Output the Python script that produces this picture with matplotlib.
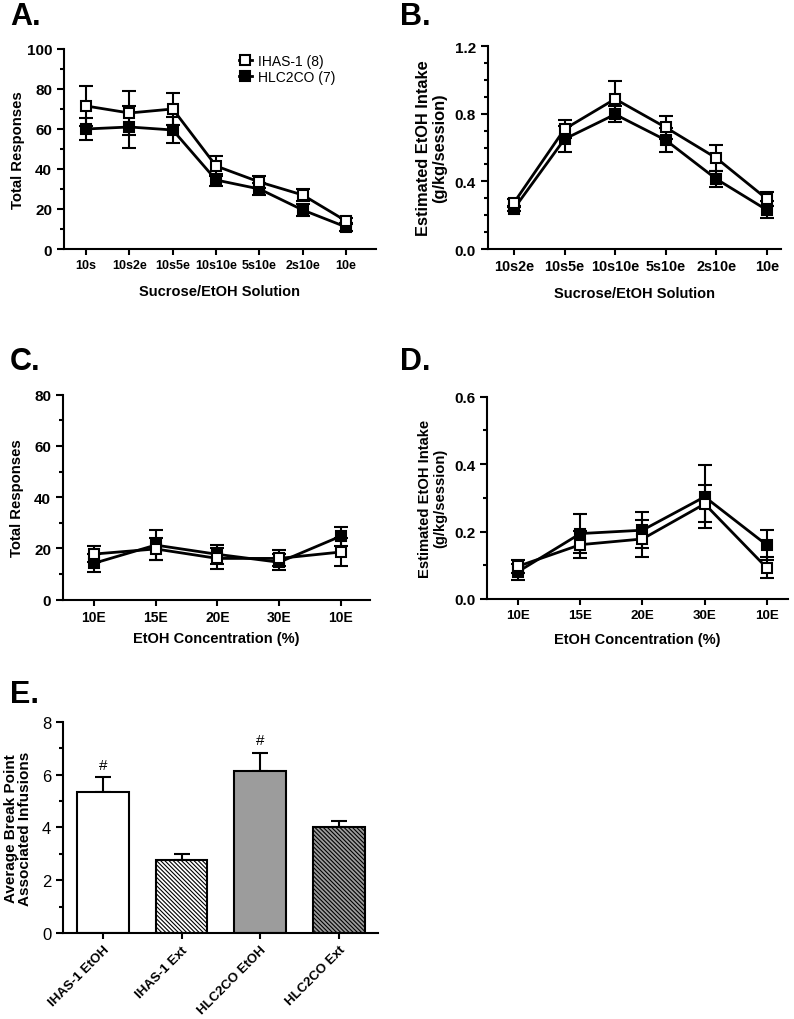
import numpy as np
import matplotlib
matplotlib.use('Agg')
import matplotlib.pyplot as plt
from matplotlib.ticker import MultipleLocator, FormatStrFormatter
from matplotlib.lines import Line2D

plt.rcParams['font.family'] = ['Liberation Sans', 'DejaVu Sans']
plt.rcParams['hatch.linewidth'] = 0.8

# --- DATA ---
# Panel A: total responses across sucrose/EtOH fading
a_labels = ['10s', '10s2e', '10s5e', '10s10e', '5s10e', '2s10e', '10e']
a_ihas = [71.5, 68, 70, 41.5, 33.5, 27, 14]
a_ihas_err = [10, 11, 8, 5, 3, 3, 1.5]
a_hlc = [60, 61, 59.5, 34.5, 30, 19.5, 11]
a_hlc_err = [5.5, 10.5, 6.5, 3, 3, 3, 2]

# Panel B: estimated EtOH intake across fading
b_labels = ['10s2e', '10s5e', '10s10e', '5s10e', '2s10e', '10e']
b_ihas = [0.274, 0.709, 0.887, 0.719, 0.538, 0.296]
b_ihas_err = [0.02, 0.055, 0.106, 0.067, 0.075, 0.04]
b_hlc = [0.238, 0.65, 0.796, 0.644, 0.414, 0.231]
b_hlc_err = [0.012, 0.077, 0.047, 0.073, 0.05, 0.05]

# Panel C: total responses across EtOH concentrations
c_labels = ['10E', '15E', '20E', '30E', '10E']
c_ihas = [17.8, 19.8, 16.1, 16.1, 18.6]
c_ihas_err = [3, 4.3, 4, 3.1, 5.6]
c_hlc = [14.2, 21.3, 17.7, 14.6, 24.8]
c_hlc_err = [3.5, 5.9, 3.8, 3.2, 3.7]

# Panel D: estimated EtOH intake across EtOH concentrations
d_labels = ['10E', '15E', '20E', '30E', '10E']
d_ihas = [0.097, 0.161, 0.178, 0.282, 0.092]
d_ihas_err = [0.02, 0.04, 0.055, 0.055, 0.031]
d_hlc = [0.081, 0.194, 0.204, 0.303, 0.16]
d_hlc_err = [0.024, 0.057, 0.054, 0.093, 0.045]

# Panel E: break point infusions
e_labels = ['IHAS-1 EtOH', 'IHAS-1 Ext', 'HLC2CO EtOH', 'HLC2CO Ext']
e_vals = [5.33, 2.75, 6.14, 4.0]
e_err = [0.57, 0.26, 0.7, 0.25]
e_sig = ['#', '', '#', '']

LW = 1.5
GRAY = '#9c9c9c'

fig = plt.figure(figsize=(7.94, 10.2), dpi=100)


def style_axes(ax, ymax, major, minor, bold=True, tick_size=11):
    for s in ('top', 'right'):
        ax.spines[s].set_visible(False)
    for s in ('left', 'bottom'):
        ax.spines[s].set_linewidth(LW)
    ax.set_ylim(0, ymax)
    ax.yaxis.set_major_locator(MultipleLocator(major))
    ax.yaxis.set_minor_locator(MultipleLocator(minor))
    ax.tick_params(axis='y', which='major', length=5, width=LW, direction='out')
    ax.tick_params(axis='y', which='minor', length=3, width=LW, direction='out')
    ax.tick_params(axis='x', which='major', length=4, width=LW, direction='out')
    weight = 'bold' if bold else 'normal'
    for t in ax.get_yticklabels():
        t.set_fontsize(tick_size)
        t.set_fontweight(weight)


def line_panel(rect, labels, ihas, ihas_err, hlc, hlc_err, xlim, ymax, major, minor,
               ylabel, xlabel, ylab_x, xlab_y, fmt, ylab_size, xtick_size):
    ax = fig.add_axes(rect)
    x = np.arange(len(labels))
    common = dict(color='black', lw=2, elinewidth=1.5, capsize=5, capthick=1.5,
                  marker='s', ms=7.5, mec='black', mew=1.5, clip_on=False)
    ax.errorbar(x, hlc, yerr=hlc_err, mfc='black', zorder=3, **common)
    ax.errorbar(x, ihas, yerr=ihas_err, mfc='white', zorder=4, **common)
    ax.set_xlim(*xlim)
    ax.set_xticks(x)
    ax.set_xticklabels(labels, fontsize=xtick_size, fontweight='bold')
    ax.yaxis.set_major_formatter(FormatStrFormatter(fmt))
    style_axes(ax, ymax, major, minor)
    ax.set_ylabel(ylabel, fontsize=ylab_size, fontweight='bold', linespacing=1.1)
    ax.yaxis.set_label_coords(ylab_x, 0.5)
    ax.set_xlabel(xlabel, fontsize=10.5, fontweight='bold')
    ax.xaxis.set_label_coords(0.5, xlab_y)
    return ax


axA = line_panel([0.0806, 0.7549, 0.3929, 0.1961], a_labels, a_ihas, a_ihas_err,
                 a_hlc, a_hlc_err, (-0.51, 6.69), 100, 20, 10,
                 'Total Responses', 'Sucrose/EtOH Solution', -0.125, -0.175, '%d', 10.7, 9)
axB = line_panel([0.6142, 0.7549, 0.3694, 0.1990], b_labels, b_ihas, b_ihas_err,
                 b_hlc, b_hlc_err, (-0.52, 5.28), 1.2, 0.4, 0.1,
                 'Estimated EtOH Intake\n(g/kg/session)', 'Sucrose/EtOH Solution',
                 -0.139, -0.182, '%.1f', 11.8, 10.4)
axC = line_panel([0.0793, 0.4111, 0.3866, 0.2010], c_labels, c_ihas, c_ihas_err,
                 c_hlc, c_hlc_err, (-0.5, 4.47), 80, 20, 10,
                 'Total Responses', 'EtOH Concentration (%)', -0.127, -0.153, '%d', 10.7, 10)
axD = line_panel([0.6134, 0.4118, 0.3790, 0.1983], d_labels, d_ihas, d_ihas_err,
                 d_hlc, d_hlc_err, (-0.5, 4.34), 0.6, 0.2, 0.1,
                 'Estimated EtOH Intake\n(g/kg/session)', 'EtOH Concentration (%)',
                 -0.133, -0.164, '%.1f', 10.6, 9.6)

# legend in panel A
handles = [Line2D([], [], color='black', lw=2, marker='s', ms=7, mfc='white', mec='black', mew=1.5),
           Line2D([], [], color='black', lw=2, marker='s', ms=7, mfc='black', mec='black', mew=1.5)]
axA.legend(handles, ['IHAS-1 (8)', 'HLC2CO (7)'], loc='upper left', bbox_to_anchor=(0.561, 0.975),
           frameon=False, handlelength=0.9, handletextpad=0.45, labelspacing=0.15,
           borderpad=0, borderaxespad=0, prop={'size': 10})

# Panel E: bars
axE = fig.add_axes([0.0793, 0.0843, 0.3967, 0.2069])
xe = np.arange(len(e_labels))
faces = ['white', 'white', GRAY, GRAY]
hatches = [None, '\\' * 8, None, '\\' * 8]
bars = axE.bar(xe, e_vals, width=0.66, color=faces, edgecolor='black', linewidth=1.5,
               zorder=2)
for b, h in zip(bars, hatches):
    if h:
        b.set_hatch(h)
axE.errorbar(xe, e_vals, yerr=[np.zeros(len(e_err)), e_err], fmt='none', ecolor='black',
             elinewidth=1.5, capsize=6, capthick=1.5, zorder=1)
for xi, v, er, s in zip(xe, e_vals, e_err, e_sig):
    if s:
        axE.text(xi, v + er + 0.2, s, ha='center', va='bottom', fontsize=11)
axE.set_xlim(-0.51, 3.5)
axE.set_xticks(xe)
axE.set_xticklabels(e_labels, rotation=45, ha='right', rotation_mode='anchor',
                    fontsize=9.5, fontweight='bold')
style_axes(axE, 8, 2, 1, bold=False, tick_size=12)
axE.set_ylabel('Average Break Point\nAssociated Infusions', fontsize=11, fontweight='bold',
               linespacing=1.0)
axE.yaxis.set_label_coords(-0.098, 0.5)

# panel letters
for lbl, px, py in [('A.', 10, 17), ('B.', 400, 17), ('C.', 10, 362), ('D.', 400, 362),
                    ('E.', 10, 695)]:
    fig.text(px / 794, 1 - py / 1020, lbl, fontsize=22, fontweight='bold', va='center',
             ha='left')

fig.savefig('out.png', dpi=100)
